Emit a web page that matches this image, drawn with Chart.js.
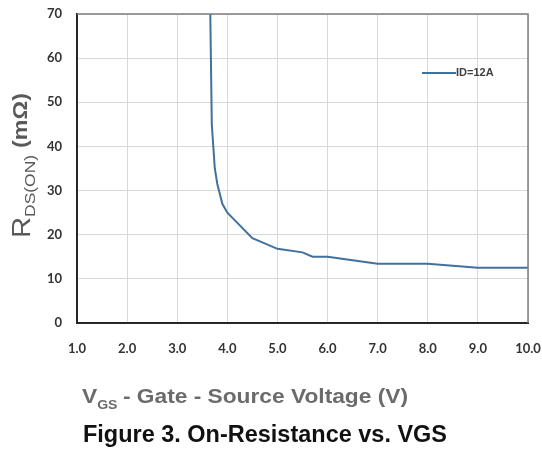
<!DOCTYPE html>
<html>
<head>
<meta charset="utf-8">
<script src="https://cdn.jsdelivr.net/npm/chart.js@4"></script>
<style>
  body { margin: 0; background: #fff; }
  #wrap { width: 542px; height: 452px; }
</style>
</head>
<body>
<div id="wrap"><canvas id="myChart" width="542" height="452"></canvas></div>
<script>
// values
let seriesName = 'ID=12A';
let vgs = [3.66, 3.69, 3.75, 3.8, 3.9, 4.0, 4.5, 5.0, 5.5, 5.7, 6.0, 6.5, 7.0, 8.0, 9.0, 10.0];
let rdsOn = [70, 45, 35, 31.5, 27, 25, 19.2, 16.8, 16, 15, 15, 14.2, 13.4, 13.4, 12.5, 12.5];
let xTicks = [1, 2, 3, 4, 5, 6, 7, 8, 9, 10];
let yTicks = [0, 10, 20, 30, 40, 50, 60, 70];

let lineColor = '#41719c';

let points = [];
vgs.forEach((v, i) => {
    points.push({ x: v, y: rdsOn[i] });
});

// draws a list of [text, font, dy, gapAfter] pieces stretched to a given length
function drawPieces(ctx, pieces, len) {
    let total = 0;
    pieces.forEach(p => {
        ctx.font = p[1];
        total += ctx.measureText(p[0]).width + p[3];
    });
    ctx.save();
    ctx.scale(len / total, 1);
    let x = 0;
    pieces.forEach(p => {
        ctx.font = p[1];
        ctx.fillText(p[0], x, p[2]);
        x += ctx.measureText(p[0]).width + p[3];
    });
    ctx.restore();
}

// frame, legend, axis titles and caption
const extras = {
    id: 'extras',
    afterDatasetsDraw(chart) {
        const ctx = chart.ctx;
        const a = chart.chartArea;
        ctx.save();

        // top and right frame
        ctx.strokeStyle = '#7f7f7f';
        ctx.lineWidth = 1.5;
        ctx.beginPath();
        ctx.moveTo(a.left, a.top);
        ctx.lineTo(a.right, a.top);
        ctx.lineTo(a.right, a.bottom);
        ctx.stroke();

        // legend inside plot
        ctx.strokeStyle = lineColor;
        ctx.lineWidth = 2;
        ctx.beginPath();
        ctx.moveTo(422, 73);
        ctx.lineTo(456, 73);
        ctx.stroke();
        ctx.fillStyle = '#404040';
        ctx.font = 'bold 11px "Liberation Sans"';
        ctx.textBaseline = 'middle';
        ctx.textAlign = 'left';
        ctx.fillText(chart.data.datasets[0].label, 456, 73);

        ctx.textBaseline = 'alphabetic';

        // y axis title, rotated
        ctx.save();
        ctx.translate(30, 238);
        ctx.rotate(-Math.PI / 2);
        ctx.fillStyle = '#595959';
        drawPieces(ctx, [
            ['R', '25px "Liberation Sans"', 0, 0],
            ['DS(ON)', '15px "Liberation Sans"', 5, 6],
            ['(m\u03A9)', 'bold 20px "Liberation Sans"', -3, 0]
        ], 145);
        ctx.restore();

        // x axis title
        ctx.save();
        ctx.translate(82, 403);
        ctx.fillStyle = '#6b6b6b';
        drawPieces(ctx, [
            ['V', 'bold 21px "Liberation Sans"', 0, 0],
            ['GS', 'bold 13px "Liberation Sans"', 6, 5],
            ['- Gate - Source Voltage (V)', 'bold 21px "Liberation Sans"', 0, 0]
        ], 326);
        ctx.restore();

        // caption
        ctx.save();
        ctx.translate(83, 442);
        ctx.fillStyle = '#111';
        drawPieces(ctx, [
            ['Figure 3. On-Resistance vs. VGS', 'bold 23px "Liberation Sans"', 0, 0]
        ], 364);
        ctx.restore();

        ctx.restore();
    }
};

const config = {
    type: 'line',
    data: {
        datasets: [{
            label: seriesName,
            data: points,
            borderColor: lineColor,
            backgroundColor: lineColor,
            borderWidth: 2,
            pointRadius: 0,
            tension: 0,
            fill: false
        }]
    },
    options: {
        responsive: false,
        animation: false,
        layout: { padding: { left: 0, top: 14, right: 14, bottom: 89 } },
        plugins: {
            legend: { display: false },
            tooltip: { enabled: false }
        },
        scales: {
            x: {
                type: 'linear',
                min: 1,
                max: 10,
                afterBuildTicks: scale => { scale.ticks = xTicks.map(v => ({ value: v })); },
                afterFit: scale => {
                    scale.height = 40;
                    scale.paddingLeft = 0;
                    scale.paddingRight = 0;
                },
                ticks: {
                    padding: 18,
                    color: '#333',
                    font: { family: 'Lato', weight: 'bold', size: 13 },
                    callback: v => v.toFixed(1),
                    maxRotation: 0
                },
                grid: { color: '#d9d9d9', lineWidth: 1, drawTicks: false },
                border: { color: '#262626', width: 2 }
            },
            y: {
                min: 0,
                max: 70,
                afterBuildTicks: scale => { scale.ticks = yTicks.map(v => ({ value: v })); },
                afterFit: scale => {
                    scale.width = 77;
                    scale.paddingTop = 0;
                    scale.paddingBottom = 0;
                },
                ticks: {
                    padding: 15,
                    color: '#333',
                    font: { family: 'Lato', weight: 'bold', size: 13 }
                },
                grid: { color: '#d9d9d9', lineWidth: 1, drawTicks: false },
                border: { color: '#262626', width: 2 }
            }
        }
    },
    plugins: [extras]
};

let myChart = new Chart(document.getElementById('myChart'), config);
</script>
</body>
</html>
